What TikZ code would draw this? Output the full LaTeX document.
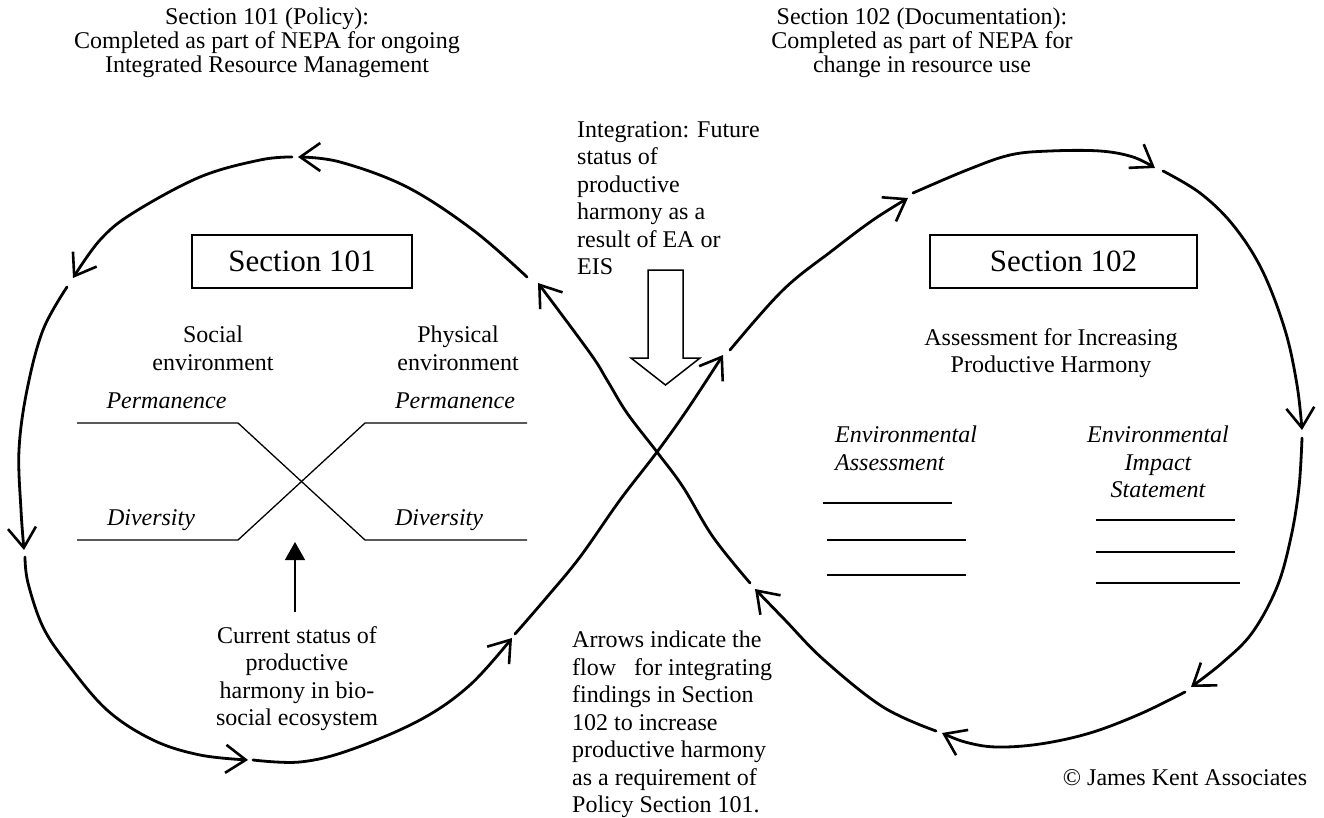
\documentclass[tikz,border=0pt]{standalone}
\usepackage{fontspec}
\setmainfont{Liberation Serif}
\usetikzlibrary{arrows.meta}
\begin{document}
\begin{tikzpicture}[x=1pt,y=-1pt,
  flow/.style={line width=2.8pt,line cap=round,line join=round,
    -{Straight Barb[length=20pt,width=28pt,line width=2.6pt]}},
  thinline/.style={line width=1.3pt},
  txt/.style={font=\fontsize{24}{27.5}\selectfont,inner sep=0pt,align=center},
  ttl/.style={font=\fontsize{24}{24}\selectfont,inner sep=0pt,align=center},
  itx/.style={font=\fontsize{24}{27.5}\selectfont\itshape,inner sep=0pt},
  secbox/.style={draw,line width=1.4pt,font=\fontsize{31}{31}\selectfont,
    minimum width=220pt,minimum height=53pt,inner sep=0pt},
  hollow/.style={draw,line width=1.5pt,fill=white,line join=miter},
  solidarrow/.style={line width=1.3pt,-{Triangle[length=18pt,width=20pt]}}]
\useasboundingbox (0,0) rectangle (1324,818);

% titles
\node[ttl,anchor=north] (t101) at (267,8) {Section 101 (Policy):\\Completed as part of NEPA for ongoing\\Integrated Resource Management};
\node[ttl,anchor=north] (t102) at (922,8) {Section 102 (Documentation):\\Completed as part of NEPA for\\change in resource use};

% section boxes
\node[secbox] (b101) at (302,261.5) {Section 101};
\node[secbox,minimum width=267pt] (b102) at (1063.5,261.5) {Section 102};

% left inner content
\node[txt,anchor=north] (soc) at (213,326) {Social\\environment};
\node[txt,anchor=north] (phy) at (458,326) {Physical\\environment};
\node[itx,anchor=base] (perml) at (166.5,408) {Permanence};
\node[itx,anchor=base] (permr) at (455,408) {Permanence};
\node[itx,anchor=base] (divl) at (151,525) {Diversity};
\node[itx,anchor=base] (divr) at (439,525) {Diversity};
\draw[thinline] (77,423) -- (238,423) -- (365,540) -- (527,540);
\draw[thinline] (77,540) -- (238,540) -- (365,423) -- (527,423);

\node[txt,anchor=north] (cur) at (297,626) {Current status of\\productive\\harmony in bio-\\social ecosystem};
\coordinate (sa) at (295,612);
\coordinate (sb) at (295,542);
\draw[solidarrow] (sa) -- (sb);

% centre texts
\node[txt,align=left,anchor=north west] (integ) at (577,121) {Integration: Future\\status of\\productive\\harmony as a\\result of EA or\\EIS};
\draw[hollow] (648,270) -- (683,270) -- (683,358) -- (700,358) -- (665.5,385) -- (631,358) -- (648,358) -- cycle;
\node[txt,align=left,anchor=north west] (arrows) at (572,631) {Arrows indicate the\\flow\ \ \ for integrating\\findings in Section\\102 to increase\\productive harmony\\as a requirement of\\Policy Section 101.};

% right inner content
\node[txt,anchor=north] (assess) at (1051,328) {Assessment for Increasing\\Productive Harmony};
\node[itx,align=left,anchor=north west] (ea) at (835,426) {Environmental\\Assessment};
\node[itx,align=center,anchor=north] (eis) at (1158,426) {Environmental\\Impact\\Statement};
\draw[thinline] (823,503) -- (952,503);
\draw[thinline] (827,540) -- (966,540);
\draw[thinline] (827,575) -- (966,575);
\draw[thinline] (1096,520) -- (1235,520);
\draw[thinline] (1096,552) -- (1235,552);
\draw[thinline] (1096,583) -- (1240,583);

\node[txt,anchor=base] (copy) at (1185,785) {© James Kent Associates};

% figure-eight loop
\coordinate (t1) at (298,157);
\coordinate (t2) at (73,278);
\coordinate (t3) at (24,550);
\coordinate (t4) at (248,760);
\coordinate (t5) at (512,638);
\coordinate (t6) at (723,355);
\coordinate (t7) at (908,198);
\coordinate (t8) at (1155,168);
\coordinate (t9) at (1302,430);
\coordinate (t10) at (1191,687);
\coordinate (t11) at (942,733);
\coordinate (t12) at (755,589);
\coordinate (t13) at (538,283);

\draw[flow] plot[smooth,tension=0.6] coordinates {(527,277) (473,230) (407,187) (340,162) (t1)};
\draw[flow] plot[smooth,tension=0.6] coordinates {(292,157) (260,160) (200,177) (133,213) (100,240) (t2)};
\draw[flow] plot[smooth,tension=0.6] coordinates {(67,287) (43,330) (27,390) (19,450) (21,510) (t3)};
\draw[flow] plot[smooth,tension=0.6] coordinates {(25,557) (28,583) (43,627) (67,663) (107,710) (153,740) (200,755) (t4)};
\draw[flow] plot[smooth,tension=0.6] coordinates {(253,760) (300,762) (350,750) (420,720) (470,685) (t5)};
\draw[flow] plot[smooth,tension=0.6] coordinates {(515,634) (547,597) (580,557) (620,500) (657,452) (687,410) (t6)};
\draw[flow] plot[smooth,tension=0.6] coordinates {(730,350) (783,290) (833,250) (873,220) (t7)};
\draw[flow] plot[smooth,tension=0.6] coordinates {(913,193) (967,170) (1010,155) (1050,151) (1100,151) (1133,157) (t8)};
\draw[flow] plot[smooth,tension=0.6] coordinates {(1163,171) (1200,193) (1233,225) (1262,270) (1285,330) (1297,385) (t9)};
\draw[flow] plot[smooth,tension=0.6] coordinates {(1302,438) (1299,487) (1291,537) (1277,587) (1252,633) (1222,663) (t10)};
\draw[flow] plot[smooth,tension=0.6] coordinates {(1185,692) (1140,714) (1090,733) (1040,744) (996,747) (965,742) (t11)};
\draw[flow] plot[smooth,tension=0.6] coordinates {(936,731) (883,707) (824,660) (785,620) (t12)};
\draw[flow] plot[smooth,tension=0.6] coordinates {(750,583) (713,537) (683,487) (657,452) (627,413) (607,380) (590,353) (t13)};
\end{tikzpicture}
\end{document}
